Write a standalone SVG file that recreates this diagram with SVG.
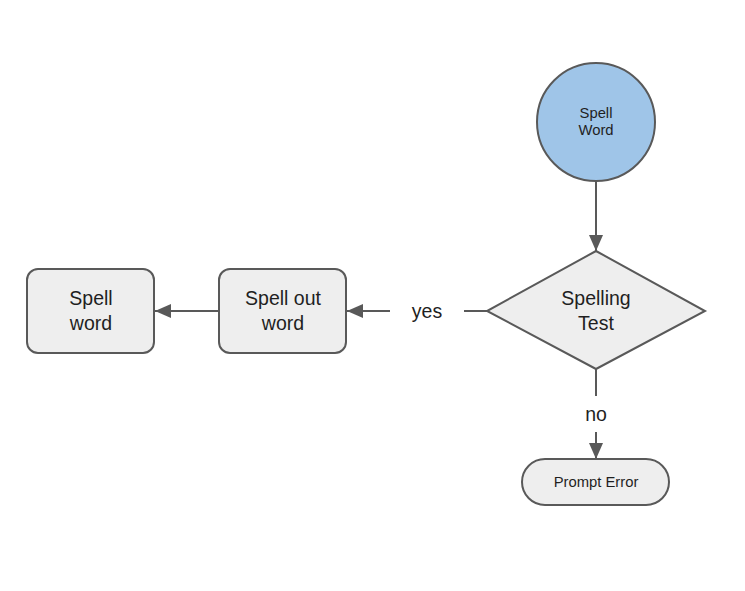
<svg xmlns="http://www.w3.org/2000/svg" width="745" height="591" viewBox="0 0 745 591">
<style>
.n{fill:#eeeeee;stroke:#595959;stroke-width:2}
.c{fill:none;stroke:#595959;stroke-width:2}
.t{font-family:"Liberation Sans",Arial,sans-serif;fill:#1f1f1f;text-anchor:middle}
.l{font-size:19.5px}
.s{font-size:14.8px}
</style>
<defs>
<marker id="a" markerWidth="16" markerHeight="14" refX="16" refY="7" orient="auto" markerUnits="userSpaceOnUse" viewBox="0 0 16 14">
<path d="M0,0 L16,7 L0,14 Z" fill="#595959"/>
</marker>
</defs>
<rect width="745" height="591" fill="#ffffff"/>
<g id="connectors">
<path class="c" d="M596,181 V251" marker-end="url(#a)"/>
<path class="c" d="M487,311 H464"/>
<path class="c" d="M390,311 H347" marker-end="url(#a)"/>
<path class="c" d="M219,311 H155" marker-end="url(#a)"/>
<path class="c" d="M596,369 V396"/>
<path class="c" d="M596,432 V459" marker-end="url(#a)"/>
<text class="t l" x="427" y="318">yes</text>
<text class="t l" x="596" y="421">no</text>
</g>
<g id="spell-word-start">
<circle cx="596" cy="122" r="59" fill="#9fc5e8" stroke="#595959" stroke-width="2"/>
<text class="t s" x="596" y="118">Spell</text>
<text class="t s" x="596" y="135">Word</text>
</g>
<g id="spelling-test">
<polygon class="n" points="596,251 705,311 596,369 487,311"/>
<text class="t l" x="596" y="305">Spelling</text>
<text class="t l" x="596" y="330">Test</text>
</g>
<g id="spell-out-word">
<rect class="n" x="219" y="269" width="127" height="84" rx="11"/>
<text class="t l" x="283" y="305">Spell out</text>
<text class="t l" x="283" y="330">word</text>
</g>
<g id="spell-word">
<rect class="n" x="27" y="269" width="127" height="84" rx="11"/>
<text class="t l" x="91" y="305">Spell</text>
<text class="t l" x="91" y="330">word</text>
</g>
<g id="prompt-error">
<rect class="n" x="522" y="459" width="147" height="46" rx="23"/>
<text class="t s" x="596" y="487">Prompt Error</text>
</g>
</svg>
